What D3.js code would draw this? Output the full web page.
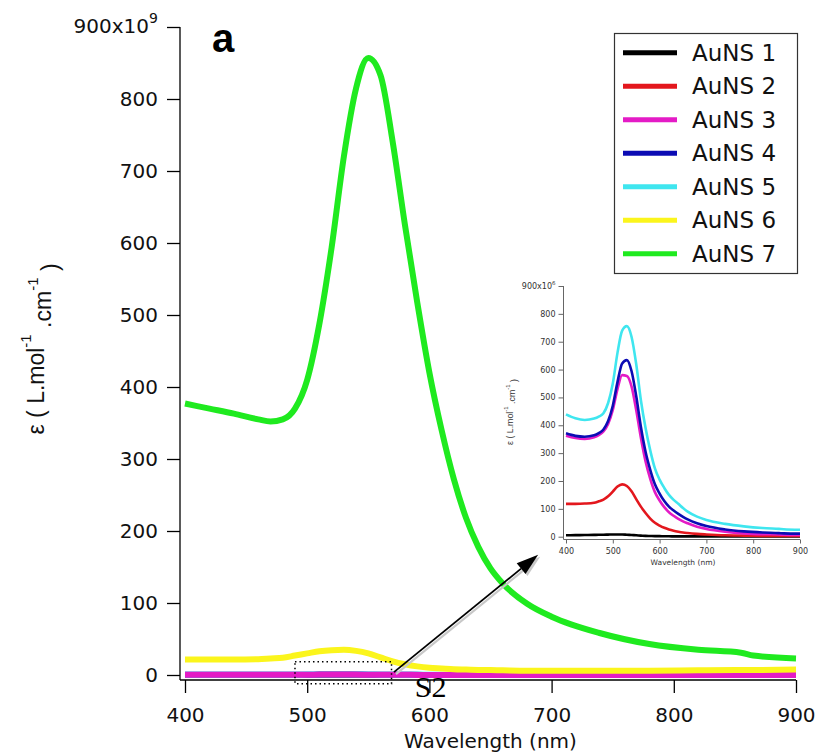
<!DOCTYPE html>
<html>
<head>
<meta charset="utf-8">
<script src="https://cdn.jsdelivr.net/npm/d3@7/dist/d3.min.js"></script>
<style>
  body { margin: 0; background: #fff; }
  svg { display: block; }
</style>
</head>
<body>
<svg id="chart" width="818" height="755"></svg>
<script>
// Wavelength grid (nm) shared by every spectrum
const wavelengths = [400, 420, 440, 460, 470, 480, 490, 500, 510, 520, 530, 540, 550, 560, 570, 580, 590, 600, 610, 620, 630, 640, 650, 660, 680, 700, 740, 780, 820, 855, 865, 900];

// Extinction coefficients, AuNS 1-5 in 10^6 L.mol-1.cm-1
const auns1 = [5, 5.5, 6, 6.5, 7, 7, 7.5, 8, 8, 8, 7, 6, 5, 4, 3, 2.5, 2, 2, 1.5, 1.5, 1.2, 1, 1, 1, 1, 1, 0.5, 0.5, 0.5, 0.5, 0.5, 0.5];
const auns2 = [118, 118, 119, 122, 127, 133, 145, 162, 180, 188, 182, 163, 135, 108, 85, 65, 50, 40, 32, 26, 21.5, 18, 15, 13, 10, 8, 5, 4, 3, 3, 3, 3];
const auns3 = [362, 354, 351, 357, 365, 378, 405, 455, 530, 580, 577, 540, 455, 355, 270, 208, 160, 130, 106, 88, 75, 64, 55, 48, 36, 28, 18, 12, 9, 8, 7, 6];
const auns4 = [371, 362, 359, 364, 372, 385, 415, 470, 555, 622, 634, 595, 505, 395, 305, 240, 188, 155, 128, 108, 94, 82, 71, 62, 48, 38, 26, 19, 15, 13, 12, 11];
const auns5 = [439, 425, 419, 424, 431, 443, 480, 550, 660, 740, 756, 718, 620, 490, 390, 310, 245, 205, 175, 150, 132, 118, 103, 90, 72, 60, 46, 37, 31, 28, 27, 25];
// AuNS 6-7 in 10^9 L.mol-1.cm-1
const auns6 = [21.5, 21.5, 21.5, 22, 23, 24, 27, 30, 33, 34.5, 35, 33.5, 30, 24.5, 19, 15, 12, 10, 9, 8, 7.5, 7, 6.8, 6.5, 6, 6, 6, 6, 6.5, 7, 7, 7.5];
const auns7 = [377, 370, 363, 355, 352, 355, 370, 410, 488, 594, 720, 815, 857, 833, 740, 625, 518, 420, 340, 272, 218, 178, 148, 127, 99, 81, 58, 43, 35, 31, 27, 23];

const seriesNames = ["AuNS 1", "AuNS 2", "AuNS 3", "AuNS 4", "AuNS 5", "AuNS 6", "AuNS 7"];
const seriesColors = ["#000000", "#e3171d", "#e41bc6", "#0c0cb4", "#3fe6ef", "#fbf51c", "#1fea1f"];
const seriesValues = [auns1, auns2, auns3, auns4, auns5, auns6, auns7];
// true = values given in 10^6, rescaled to 10^9 on the main axis
const seriesInMillions = [true, true, true, true, true, false, false];

const mainYTicks = [0, 100, 200, 300, 400, 500, 600, 700, 800, 900];
const xTicks = [400, 500, 600, 700, 800, 900];
const insetYTicks = [0, 100, 200, 300, 400, 500, 600, 700, 800, 900];

const svg = d3.select("#chart");
const tickFont = "'DejaVu Sans', Verdana, sans-serif";
const helv = "'Liberation Sans', Arial, Helvetica, sans-serif";

// ---------- main panel ----------
const x = d3.scaleLinear().domain([400, 900]).range([185, 796]);
const y = d3.scaleLinear().domain([0, 900]).range([675, 27]);
const axisX0 = 180, axisY0 = 680;

const line = d3.line()
  .x(d => x(d[0])).y(d => y(d[1]))
  .curve(d3.curveMonotoneX);

const mainOrder = [0, 1, 3, 4, 2, 5, 6];
svg.append("g").selectAll("path")
  .data(mainOrder)
  .join("path")
  .attr("fill", "none")
  .attr("stroke", i => seriesColors[i])
  .attr("stroke-width", 6)
  .attr("stroke-linejoin", "round")
  .attr("d", i => line(wavelengths.map((w, k) =>
    [w, seriesInMillions[i] ? seriesValues[i][k] / 1000 : seriesValues[i][k]])));

// axes
const yAxisG = svg.append("g")
  .attr("transform", `translate(${axisX0},0)`)
  .call(d3.axisLeft(y).tickValues(mainYTicks).tickSize(13).tickPadding(9)
    .tickFormat(d => d === 900 ? "" : d));
yAxisG.select(".domain").remove();
yAxisG.selectAll("line").attr("stroke", "#000").attr("stroke-width", 1.3);
yAxisG.selectAll("text").attr("font-family", tickFont).attr("font-size", 20).attr("fill", "#111");

const topLabel = svg.append("text")
  .attr("x", axisX0 - 22).attr("y", y(900))
  .attr("dy", "0.32em")
  .attr("text-anchor", "end")
  .attr("font-family", tickFont).attr("font-size", 20).attr("fill", "#111");
topLabel.append("tspan").text("900x10");
topLabel.append("tspan").attr("font-size", 14).attr("dy", "-0.75em").text("9");

const xAxisG = svg.append("g")
  .attr("transform", `translate(0,${axisY0})`)
  .call(d3.axisBottom(x).tickValues(xTicks).tickSize(13).tickPadding(15));
xAxisG.select(".domain").remove();
xAxisG.selectAll("line").attr("stroke", "#000").attr("stroke-width", 1.3);
xAxisG.selectAll("text").attr("font-family", tickFont).attr("font-size", 20).attr("fill", "#111");

svg.append("line").attr("x1", axisX0).attr("x2", axisX0)
  .attr("y1", y(900)).attr("y2", axisY0)
  .attr("stroke", "#000").attr("stroke-width", 1.3);
svg.append("line").attr("x1", axisX0).attr("x2", x(900))
  .attr("y1", axisY0).attr("y2", axisY0)
  .attr("stroke", "#000").attr("stroke-width", 1.3);

svg.append("text")
  .attr("x", (x(400) + x(900)) / 2).attr("y", 748)
  .attr("text-anchor", "middle")
  .attr("font-family", tickFont).attr("font-size", 20).attr("fill", "#111")
  .text("Wavelength (nm)");

const yTitle = svg.append("text")
  .attr("transform", "translate(44,349) rotate(-90)")
  .attr("text-anchor", "middle")
  .attr("font-family", helv)
  .attr("font-size", 23).attr("fill", "#111");
yTitle.append("tspan").text("ε ( L.mol");
yTitle.append("tspan").attr("font-size", 15).attr("dy", "-0.85em").text("-1");
yTitle.append("tspan").attr("dy", "0.85em").text(" .cm");
yTitle.append("tspan").attr("font-size", 15).attr("dy", "-0.85em").text("-1");
yTitle.append("tspan").attr("dy", "0.85em").text(" )");

svg.append("text")
  .attr("x", 212).attr("y", 52)
  .attr("font-family", helv)
  .attr("font-weight", "bold").attr("font-size", 40)
  .text("a");

// ---------- legend ----------
const legend = svg.append("g");
legend.append("rect")
  .attr("x", 614.5).attr("y", 33.5).attr("width", 183).attr("height", 240)
  .attr("fill", "#fff").attr("stroke", "#333").attr("stroke-width", 1.2);
const entries = legend.selectAll("g.entry")
  .data(seriesNames)
  .join("g")
  .attr("transform", (d, i) => `translate(0,${52.7 + i * 33.5})`);
entries.append("line")
  .attr("x1", 623).attr("x2", 677).attr("y1", 0).attr("y2", 0)
  .attr("stroke", (d, i) => seriesColors[i]).attr("stroke-width", 5);
entries.append("text")
  .attr("x", 692).attr("y", 0).attr("dy", "0.36em")
  .attr("font-family", tickFont).attr("font-size", 23).attr("fill", "#111")
  .text(d => d);

// ---------- zoom box, arrow, S2 tag ----------
svg.append("rect")
  .attr("x", x(490)).attr("y", y(18.5))
  .attr("width", x(569) - x(490)).attr("height", y(-12) - y(18.5))
  .attr("fill", "none").attr("stroke", "#000").attr("stroke-width", 1.5)
  .attr("stroke-dasharray", "1.5,3");

const arrowFrom = [571, 4], arrowTo = [689, 167];
const ax1 = x(arrowFrom[0]), ay1 = y(arrowFrom[1]);
const ax2 = x(arrowTo[0]), ay2 = y(arrowTo[1]);
const len = Math.hypot(ax2 - ax1, ay2 - ay1);
const ux = (ax2 - ax1) / len, uy = (ay2 - ay1) / len;
const headL = 22, headW = 7;
function arrowHead(dx, dy) {
  const bx = ax2 - ux * headL + dx, by = ay2 - uy * headL + dy;
  return [[ax2 + dx, ay2 + dy], [bx - uy * headW, by + ux * headW], [bx + uy * headW, by - ux * headW]];
}
// soft shadow under the arrow
svg.append("line").attr("x1", ax1 + 2).attr("y1", ay1 + 2)
  .attr("x2", ax2 - ux * headL + 2).attr("y2", ay2 - uy * headL + 2)
  .attr("stroke", "#c8c8c8").attr("stroke-width", 2.2);
svg.append("polygon").attr("points", arrowHead(2, 2).join(" ")).attr("fill", "#c8c8c8");
svg.append("line").attr("x1", ax1).attr("y1", ay1)
  .attr("x2", ax2 - ux * headL).attr("y2", ay2 - uy * headL)
  .attr("stroke", "#000").attr("stroke-width", 1.8);
svg.append("polygon").attr("points", arrowHead(0, 0).join(" ")).attr("fill", "#000");

svg.append("text")
  .attr("x", x(588)).attr("y", y(-30))
  .attr("font-family", "'Liberation Serif', 'Times New Roman', serif")
  .attr("font-size", 30).attr("fill", "#000")
  .text("S2");

// ---------- inset panel ----------
const xi = d3.scaleLinear().domain([400, 900]).range([566, 800]);
const yi = d3.scaleLinear().domain([0, 900]).range([536.7, 286]);
const insetX0 = 563.5, insetY0 = 539.5;
const insetFont = 8;

const lineI = d3.line()
  .x(d => xi(d[0])).y(d => yi(d[1]))
  .curve(d3.curveMonotoneX);
const inset = svg.append("g");
inset.selectAll("path")
  .data([0, 1, 2, 3, 4])
  .join("path")
  .attr("fill", "none")
  .attr("stroke", i => seriesColors[i])
  .attr("stroke-width", 2.6)
  .attr("stroke-linejoin", "round")
  .attr("d", i => lineI(wavelengths.map((w, k) => [w, seriesValues[i][k]])));

const yAxisI = inset.append("g")
  .attr("transform", `translate(${insetX0},0)`)
  .call(d3.axisLeft(yi).tickValues(insetYTicks).tickSize(5).tickPadding(3)
    .tickFormat(d => d === 900 ? "" : d));
yAxisI.select(".domain").remove();
yAxisI.selectAll("line").attr("stroke", "#666");
yAxisI.selectAll("text").attr("font-family", tickFont).attr("font-size", insetFont).attr("fill", "#333");

const topI = inset.append("text")
  .attr("x", insetX0 - 8).attr("y", yi(900)).attr("dy", "0.32em")
  .attr("text-anchor", "end")
  .attr("font-family", tickFont).attr("font-size", insetFont).attr("fill", "#333");
topI.append("tspan").text("900x10");
topI.append("tspan").attr("font-size", 5.5).attr("dy", "-0.7em").text("6");

const xAxisI = inset.append("g")
  .attr("transform", `translate(0,${insetY0})`)
  .call(d3.axisBottom(xi).tickValues(xTicks).tickSize(4).tickPadding(5));
xAxisI.select(".domain").remove();
xAxisI.selectAll("line").attr("stroke", "#666");
xAxisI.selectAll("text").attr("font-family", tickFont).attr("font-size", insetFont).attr("fill", "#333");

inset.append("line").attr("x1", insetX0).attr("x2", insetX0)
  .attr("y1", yi(900)).attr("y2", insetY0).attr("stroke", "#666");
inset.append("line").attr("x1", insetX0).attr("x2", xi(900))
  .attr("y1", insetY0).attr("y2", insetY0).attr("stroke", "#666");

inset.append("text")
  .attr("x", (xi(400) + xi(900)) / 2).attr("y", 565)
  .attr("text-anchor", "middle")
  .attr("font-family", tickFont).attr("font-size", 7.5).attr("fill", "#333")
  .text("Wavelength (nm)");

const yTitleI = inset.append("text")
  .attr("transform", "translate(513,412) rotate(-90)")
  .attr("text-anchor", "middle")
  .attr("font-family", helv)
  .attr("font-size", 8.8).attr("fill", "#333");
yTitleI.append("tspan").text("ε ( L.mol");
yTitleI.append("tspan").attr("font-size", 6).attr("dy", "-0.8em").text("-1");
yTitleI.append("tspan").attr("dy", "0.8em").text(" .cm");
yTitleI.append("tspan").attr("font-size", 6).attr("dy", "-0.8em").text("-1");
yTitleI.append("tspan").attr("dy", "0.8em").text(" )");
</script>
</body>
</html>
